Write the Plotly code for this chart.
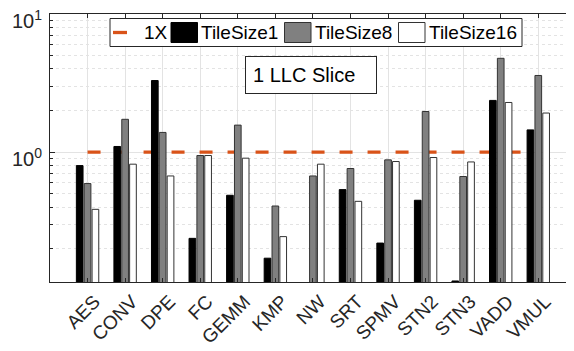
import math
import plotly.graph_objects as go

categories = ["AES", "CONV", "DPE", "FC", "GEMM", "KMP", "NW", "SRT",
              "SPMV", "STN2", "STN3", "VADD", "VMUL"]
tile1 = [0.80, 1.10, 3.30, 0.238, 0.488, 0.171, None, 0.536,
         0.220, 0.449, 0.117, 2.37, 1.45]
tile8 = [0.593, 1.73, 1.39, 0.946, 1.57, 0.408, 0.673, 0.762,
         0.880, 1.97, 0.667, 4.78, 3.59]
tile16 = [0.386, 0.819, 0.673, 0.946, 0.905, 0.245, 0.819, 0.441,
          0.856, 0.915, 0.850, 2.29, 1.92]
baseline = 1.0
baseline_name = "1X"
series_names = ["TileSize1", "TileSize8", "TileSize16"]
y_min, y_max = 0.115, 10
major_ticks = [1, 10]
major_labels = ["10<sup>0</sup>", "10<sup>1</sup>"]
minor_ticks = [0.2, 0.3, 0.4, 0.5, 0.6, 0.7, 0.8, 0.9,
               2, 3, 4, 5, 6, 7, 8, 9]
note = "1 LLC Slice"

FONT = "Liberation Sans, Arial, sans-serif"
TXT = "#262626"
GRID = "#e3e3e3"
ORANGE = "#D95319"

# page body has an 8px margin; the figure is sized to fill the 574x351 window
OFF = 8
W, H = 574 - OFF, 351 - OFF
P_LEFT, P_TOP, P_BOT, P_RIGHT = 50, 14, 282, 574   # plot area in window px
ML, MT = P_LEFT - OFF, P_TOP - OFF
MB = H - (P_BOT - OFF)
MR = W - (P_RIGHT - OFF)
PW, PH = P_RIGHT - P_LEFT, P_BOT - P_TOP


def px_x(p):
    return (p - P_LEFT) / PW


def px_y(p):
    return (P_BOT - p) / PH


x = list(range(len(categories)))
fills = ["#000000", "#808080", "#ffffff"]
edges = ["#000000", "#333333", "#333333"]

fig = go.Figure()
for name, vals, fc, ec in zip(series_names, [tile1, tile8, tile16], fills, edges):
    fig.add_trace(go.Bar(x=x, y=vals, name=name, showlegend=False,
                         marker=dict(color=fc, line=dict(color=ec, width=1))))

# 1X reference line (drawn beneath the bars)
fig.add_shape(type="line", xref="x", yref="y",
              x0=x[0], x1=x[-1], y0=baseline, y1=baseline,
              line=dict(color=ORANGE, width=3.3, dash="13px,15px"),
              layer="between")

# annotation box
fig.add_annotation(text=note, xref="paper", yref="paper",
                   x=px_x(311), y=px_y(75),
                   xanchor="center", yanchor="middle", showarrow=False,
                   font=dict(family=FONT, size=20, color="#000000"),
                   width=116, height=22, align="left", borderpad=7,
                   bordercolor="#262626", borderwidth=1, bgcolor="#ffffff")

# legend (drawn by hand to match the boxed MATLAB-style legend)
leg_top, leg_bot = 18.5, 46.5
leg_mid = (leg_top + leg_bot) / 2
fig.add_shape(type="rect", xref="paper", yref="paper",
              x0=px_x(110), x1=px_x(522), y0=px_y(leg_bot), y1=px_y(leg_top),
              line=dict(color="#262626", width=1), fillcolor="#ffffff",
              layer="above")
fig.add_shape(type="line", xref="paper", yref="paper",
              x0=px_x(113), x1=px_x(127), y0=px_y(leg_mid), y1=px_y(leg_mid),
              line=dict(color=ORANGE, width=3.3), layer="above")
fig.add_annotation(text=baseline_name, xref="paper", yref="paper",
                   x=px_x(142), y=px_y(leg_mid), xanchor="left",
                   yanchor="middle", showarrow=False,
                   font=dict(family=FONT, size=19, color="#000000"))
swatch_x = [171, 284.5, 398.5]
for sx, name, fc, ec in zip(swatch_x, series_names, fills, edges):
    fig.add_shape(type="rect", xref="paper", yref="paper",
                  x0=px_x(sx), x1=px_x(sx + 26.5),
                  y0=px_y(leg_mid + 10), y1=px_y(leg_mid - 10),
                  line=dict(color=ec, width=1), fillcolor=fc, layer="above")
    fig.add_annotation(text=name, xref="paper", yref="paper",
                       x=px_x(sx + 28), y=px_y(leg_mid), xanchor="left",
                       yanchor="middle", showarrow=False,
                       font=dict(family=FONT, size=19, color="#000000"))

fig.update_layout(
    width=W, height=H,
    margin=dict(l=ML, r=MR, t=MT, b=MB),
    paper_bgcolor="#ffffff", plot_bgcolor="#ffffff",
    barmode="group", bargap=0.372, bargroupgap=0.15,
    font=dict(family=FONT, size=19, color=TXT),
    showlegend=False,
    xaxis=dict(tickmode="array", tickvals=x, ticktext=categories,
               range=[-1, -1 + PW / 37.56], tickangle=-45,
               automargin=False, ticklabelshift=7,
               showline=True, linecolor=TXT, linewidth=1, mirror="ticks",
               ticks="inside", ticklen=4, tickcolor=TXT,
               showgrid=True, gridcolor=GRID, gridwidth=1, zeroline=False,
               tickfont=dict(family=FONT, size=19, color=TXT)),
    yaxis=dict(type="log", range=[math.log10(y_min), math.log10(y_max)],
               automargin=False, ticklabeloverflow="allow",
               ticklabelstandoff=3, ticklabelshift=7,
               tickmode="array", tickvals=major_ticks, ticktext=major_labels,
               showline=True, linecolor=TXT, linewidth=1, mirror=False,
               ticks="inside", ticklen=5, tickcolor=TXT,
               showgrid=True, gridcolor=GRID, gridwidth=1, zeroline=False,
               tickfont=dict(family=FONT, size=20, color=TXT),
               minor=dict(tickmode="array", tickvals=minor_ticks,
                          ticks="inside", ticklen=3, tickcolor=TXT,
                          showgrid=True, gridcolor=GRID, griddash="dot",
                          gridwidth=1)),
)

fig.write_html("out.html")
